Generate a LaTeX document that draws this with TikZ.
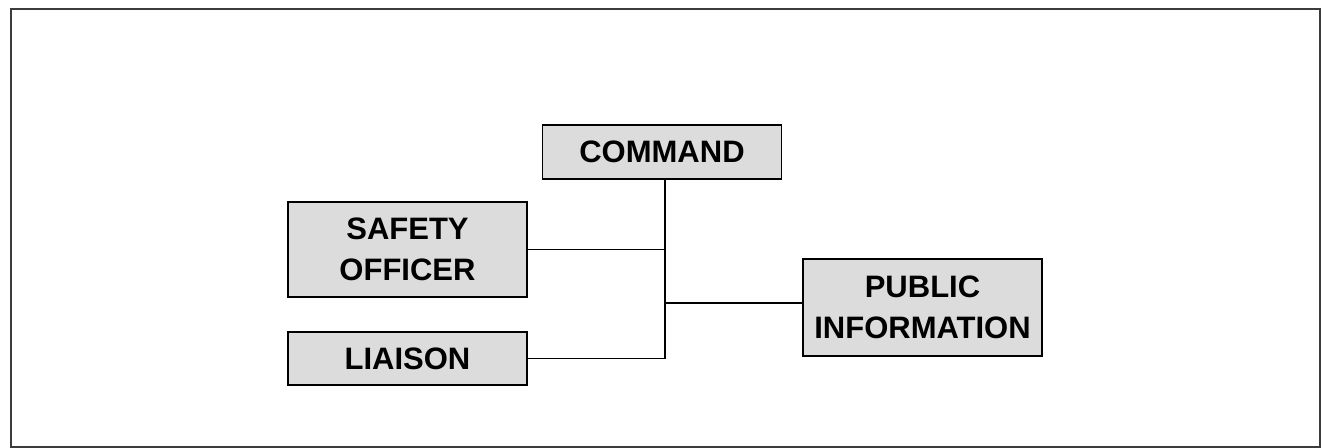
\documentclass[tikz,border=0pt]{standalone}
\usepackage{fontspec}
\setmainfont{Liberation Sans}
\usepackage{tikz}
\usetikzlibrary{positioning}
\definecolor{boxgray}{RGB}{220,220,220}
\definecolor{framegray}{RGB}{60,60,60}

\begin{document}
\begin{tikzpicture}[x=0.5pt, y=-0.5pt, line width=0.9pt,
  post/.style={draw, fill=boxgray, align=center, inner sep=0pt,
    minimum width=119.5pt, font=\fontsize{15.5}{20.5}\selectfont\bfseries}]
\useasboundingbox (0,0) rectangle (1322,448);
\draw[framegray, line width=1pt] (11,9) rectangle (1320,447);
% boxes
\node[post, minimum height=27pt] (command) at (662,152) {COMMAND};
\node[post, minimum height=47.5pt] (safety) at (407.5,249.5) {SAFETY\\OFFICER};
\node[post, minimum height=26.5pt] (liaison) at (407.5,358.5) {LIAISON};
\node[post, minimum height=48.5pt] (public) at (922.5,307.5) {PUBLIC\\INFORMATION};
% connectors
\coordinate (trunktop) at (665,179);
\coordinate (pubjoin) at (665,303);
\draw (trunktop) -- (trunktop |- liaison.east) -- (liaison.east);
\draw (safety.east) -- (safety.east -| trunktop);
\draw (pubjoin) -- (pubjoin -| public.west);
\end{tikzpicture}
\end{document}
